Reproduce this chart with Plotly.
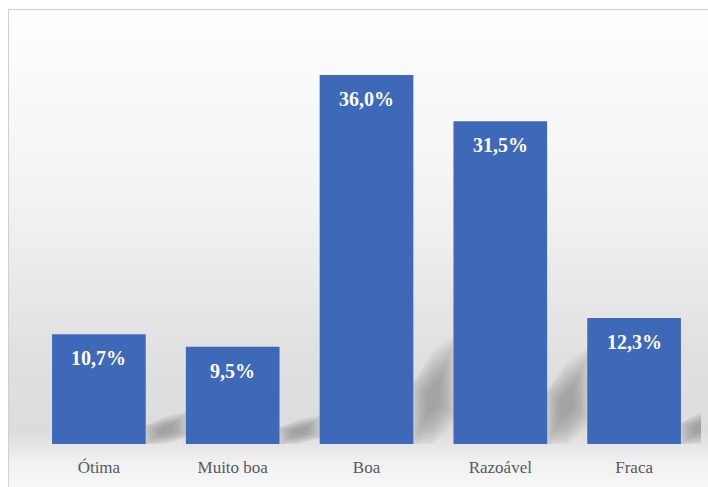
import base64
import plotly.graph_objects as go

# Survey results by rating
categories = ["Ótima", "Muito boa", "Boa", "Razoável", "Fraca"]
values = [10.7, 9.5, 36.0, 31.5, 12.3]
value_labels = ["10,7%", "9,5%", "36,0%", "31,5%", "12,3%"]

W, H = 708, 487
M_L, M_R, M_T, M_B = 32, 7, 20, 43
PLOT_W = W - M_L - M_R
PLOT_H = H - M_T - M_B
Y_MAX = PLOT_H / 10.25

SERIF = "Liberation Serif, Times New Roman, Times, DejaVu Serif, serif"
BAR_BLUE = "#3d69b8"
BAR_GAP = 0.3
HALF = (1 - BAR_GAP) / 2


def px_to_paper_x(px):
    return (px - M_L) / PLOT_W


def px_to_paper_y(py):
    return (H - M_B - py) / PLOT_H


# soft grey backdrop that darkens toward the floor of the bars
svg = """<svg xmlns='http://www.w3.org/2000/svg' width='100' height='100' preserveAspectRatio='none'>
<defs><linearGradient id='g' x1='0' y1='0' x2='0' y2='1'>
<stop offset='0' stop-color='#fefefe'/>
<stop offset='0.40' stop-color='#f2f2f2'/>
<stop offset='0.70' stop-color='#e0e0e0'/>
<stop offset='0.86' stop-color='#dcdcdc'/>
<stop offset='0.92' stop-color='#f0f0f0'/>
<stop offset='1' stop-color='#fbfbfb'/>
</linearGradient></defs>
<rect width='100' height='100' fill='url(#g)'/></svg>"""
bg_src = "data:image/svg+xml;base64," + base64.b64encode(svg.encode()).decode()

fig = go.Figure()
fig.add_trace(go.Bar(
    x=categories,
    y=values,
    marker=dict(color=BAR_BLUE, line=dict(width=0)),
    hoverinfo="skip",
))

shapes = []
# outer frame
shapes.append(dict(
    type="rect", xref="paper", yref="paper",
    x0=px_to_paper_x(8.5), x1=px_to_paper_x(720),
    y0=px_to_paper_y(500), y1=px_to_paper_y(9.5),
    line=dict(color="#d0d0d0", width=1), fillcolor="rgba(0,0,0,0)",
    layer="below",
))

# perspective shadows cast to the right of each bar, layered for softness
D = 0.3
for i, v in enumerate(values):
    xr = i + HALF
    pts = [
        (xr, 0.0),
        (xr, 0.16 * v),
        (xr + 0.5 * D, 0.23 * v),
        (xr + D, 0.27 * v),
        (xr + D, 0.08 * v),
        (xr + 0.5 * D, 0.02 * v),
    ]
    cx = sum(p[0] for p in pts) / len(pts)
    cy = sum(p[1] for p in pts) / len(pts)
    n = 22
    for j in range(n):
        s = 1.25 - 0.045 * j
        sp = [(cx + (px - cx) * s, cy + (py - cy) * s) for px, py in pts]
        sp = [(max(px, xr), max(py, 0.0)) for px, py in sp]
        path = "M " + " L ".join(f"{px:.4f},{py:.4f}" for px, py in sp) + " Z"
        shapes.append(dict(
            type="path", xref="x", yref="y", path=path,
            fillcolor="rgba(120,120,120,0.026)", line=dict(width=0),
            layer="below",
        ))

annotations = []
for cat, v, lab in zip(categories, values, value_labels):
    annotations.append(dict(
        x=cat, y=v, xref="x", yref="y", text=f"<b>{lab}</b>",
        showarrow=False, yanchor="top", yshift=-11,
        font=dict(family=SERIF, size=20, color="white"),
    ))

fig.update_layout(
    width=W, height=H,
    margin=dict(l=M_L, r=M_R, t=M_T, b=M_B, autoexpand=False),
    paper_bgcolor="white",
    plot_bgcolor="rgba(0,0,0,0)",
    bargap=BAR_GAP,
    showlegend=False,
    shapes=shapes,
    annotations=annotations,
    images=[dict(
        source=bg_src, xref="paper", yref="paper",
        x=px_to_paper_x(9), y=px_to_paper_y(10),
        sizex=px_to_paper_x(720) - px_to_paper_x(9),
        sizey=px_to_paper_y(10) - px_to_paper_y(500),
        xanchor="left", yanchor="top", sizing="stretch", layer="below",
    )],
    xaxis=dict(
        range=[-0.5, len(categories) - 0.5],
        showgrid=False, zeroline=False, showline=False, automargin=False,
        ticks="outside", ticklen=8, tickcolor="rgba(0,0,0,0)",
        tickfont=dict(family=SERIF, size=17, color="#595959"),
    ),
    yaxis=dict(
        range=[0, Y_MAX], visible=False, showgrid=False, zeroline=False,
        automargin=False,
    ),
)

fig.write_html("out.html")
